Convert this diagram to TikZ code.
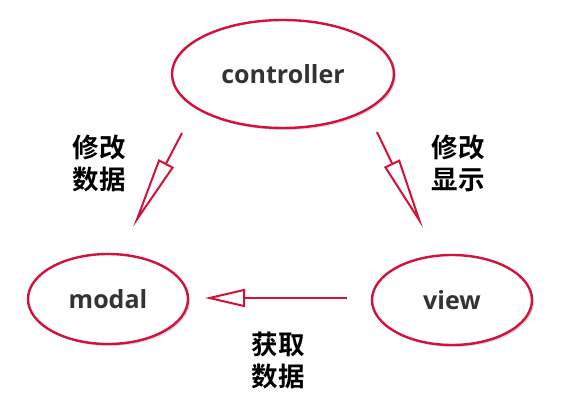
\documentclass[tikz,border=0pt]{standalone}
\usepackage{fontspec}
\setmainfont{Open Sans}
\newfontfamily\cjk{Noto Sans CJK SC}[BoldFont={* Bold}]
\usetikzlibrary{arrows.meta,shapes.geometric,shadows}
\definecolor{edgered}{HTML}{D2123C}
\definecolor{txtgray}{HTML}{333333}
\tikzset{
  ell/.style={ellipse, draw=edgered, line width=2.4pt, fill=white,
    text=txtgray, font=\bfseries\fontsize{25}{30}\selectfont,
    inner sep=0pt,
    drop shadow={shadow xshift=2pt, shadow yshift=-2pt, opacity=0.25, fill=black!60}},
  lbl/.style={align=center, font=\cjk\bfseries\fontsize{26.5}{32}\selectfont, text=black},
  arr/.style={draw=edgered, line width=2pt},
  longhead/.style={-{Triangle[open, length=72pt, width=17pt, line width=2pt]}},
  shorthead/.style={-{Triangle[open, length=40pt, width=18pt, line width=2pt]}}
}
\begin{document}
\begin{tikzpicture}[x=1pt,y=-1pt]
\useasboundingbox (0,0) rectangle (567,417);
\node[ell, minimum width=222pt, minimum height=108pt] (controller) at (283,74) {controller};
\node[ell, minimum width=160pt, minimum height=90pt] (modal) at (108,299) {modal};
\node[ell, minimum width=160pt, minimum height=90pt] (view) at (452,300) {view};
\coordinate (c1) at (182,133);
\coordinate (m1) at (133,227);
\coordinate (c2) at (377,132);
\coordinate (v1) at (423,228);
\coordinate (v2) at (347,298);
\coordinate (m2) at (205,298);
\draw[arr, longhead] (c1) -- (m1);
\draw[arr, longhead] (c2) -- (v1);
\draw[arr, shorthead] (v2) -- (m2);
\node[lbl] (l1) at (99,163) {修改\\数据};
\node[lbl] (l2) at (458,163) {修改\\显示};
\node[lbl] (l3) at (278,360) {获取\\数据};
\end{tikzpicture}
\end{document}
